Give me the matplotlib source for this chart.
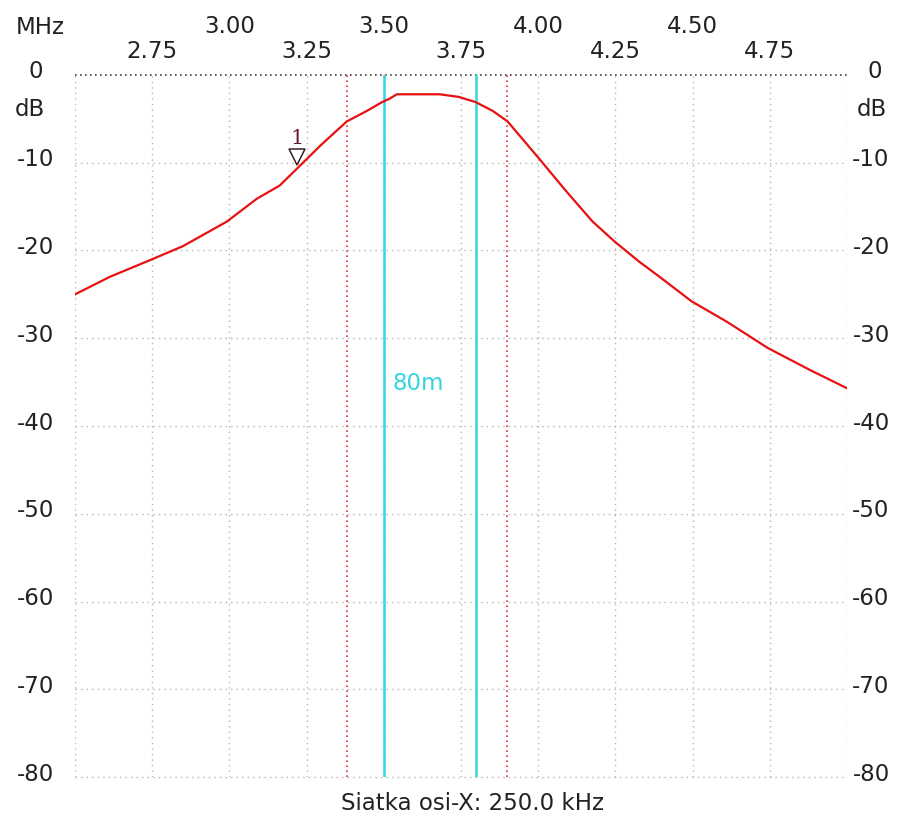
import matplotlib
matplotlib.use("Agg")
import matplotlib.pyplot as plt

# ── data ─────────────────────────────────────────────────────────────────────
freq_mhz = [2.500, 2.613, 2.743, 2.850, 2.992, 3.089, 3.163, 3.218, 3.244,
            3.293, 3.380, 3.445, 3.494, 3.519, 3.542, 3.681, 3.743, 3.798,
            3.853, 3.901, 3.995, 4.092, 4.176, 4.248, 4.328, 4.393, 4.497,
            4.610, 4.743, 4.879, 5.000]
gain_db = [-25.0, -23.0, -21.1, -19.5, -16.7, -14.1, -12.6, -10.7, -9.8,
           -8.1, -5.3, -4.1, -3.1, -2.7, -2.2, -2.2, -2.5, -3.1,
           -4.1, -5.3, -9.2, -13.3, -16.7, -19.0, -21.3, -23.0, -25.8,
           -28.1, -31.1, -33.6, -35.7]

band_lines = [3.5, 3.8]          # cyan band edges (80m)
red_markers = [3.38, 3.90]       # red dotted cursors
marker1 = (3.22, -9.4)

x_upper = [3.00, 3.50, 4.00, 4.50]
x_lower = [2.75, 3.25, 3.75, 4.25, 4.75]
y_ticks = [0, -10, -20, -30, -40, -50, -60, -70, -80]

GRID = "#b4b4b4"
TXT = "#222222"
FS = 16.5

fig = plt.figure(figsize=(9.01, 8.34), dpi=100)
ax = fig.add_axes([0.0832, 0.0683, 0.8569, 0.8418])
ax.set_xlim(2.5, 5.0)
ax.set_ylim(-80, 0)
for s in ax.spines.values():
    s.set_visible(False)
ax.set_xticks([])
ax.set_yticks([])

# dotted grid incl. border
xs = [2.5 + 0.25 * i for i in range(11)]
for x in xs:
    ax.axvline(x, color=GRID, lw=1, ls=(0, (1, 3)), zorder=1)
for y in y_ticks:
    if y == 0:
        ax.axhline(y, color="#444444", lw=1.2, ls=(0, (1, 2)), zorder=1, clip_on=False)
    else:
        ax.axhline(y, color=GRID, lw=1, ls=(0, (1, 3)), zorder=1, clip_on=False)

for x in red_markers:
    ax.axvline(x, color="#e03030", lw=1.2, ls=(0, (1, 2)), zorder=2)
for x in band_lines:
    ax.axvline(x, color="#33d6e0", lw=1.8, zorder=3)

ax.plot(freq_mhz, gain_db, color="#e81010", lw=1.6, zorder=4)

ax.plot(*marker1, marker="v", ms=11, mfc="white", mec="#3a2020", mew=1.1, zorder=5)
ax.text(marker1[0], marker1[1] + 2.2, "1", color="#6a1830", fontsize=15,
        family="DejaVu Serif", ha="center", va="center", zorder=5)

ax.text(3.61, -35.1, "80m", color="#33d6e0", fontsize=FS, ha="center", va="center")

# top frequency labels (two staggered rows)
for x in x_upper:
    ax.annotate(f"{x:.2f}", (x, 1), xycoords=("data", "axes fraction"),
                xytext=(0, 48), textcoords="offset pixels",
                ha="center", va="center", fontsize=FS, color=TXT)
for x in x_lower:
    ax.annotate(f"{x:.2f}", (x, 1), xycoords=("data", "axes fraction"),
                xytext=(0, 23), textcoords="offset pixels",
                ha="center", va="center", fontsize=FS, color=TXT)
fig.text(40 / 901, 1 - 27 / 834, "MHz", ha="center", va="center", fontsize=FS, color=TXT)

# left / right dB labels
for y in y_ticks:
    ax.annotate(f"{y}", (0, y), xycoords=("axes fraction", "data"),
                xytext=(-39, 3), textcoords="offset pixels",
                ha="center", va="center", fontsize=FS, color=TXT)
    ax.annotate(f"{y}", (1, y), xycoords=("axes fraction", "data"),
                xytext=(24 if y else 28, 3), textcoords="offset pixels",
                ha="center", va="center", fontsize=FS, color=TXT)
fig.text(30 / 901, 1 - 110 / 834, "dB", ha="center", va="center", fontsize=FS, color=TXT)
fig.text(872 / 901, 1 - 110 / 834, "dB", ha="center", va="center", fontsize=FS, color=TXT)

fig.text(472 / 901, 1 - 803 / 834, "Siatka osi-X: 250.0 kHz",
         ha="center", va="center", fontsize=FS, color=TXT)

fig.savefig("out.png", dpi=100, facecolor="white")
